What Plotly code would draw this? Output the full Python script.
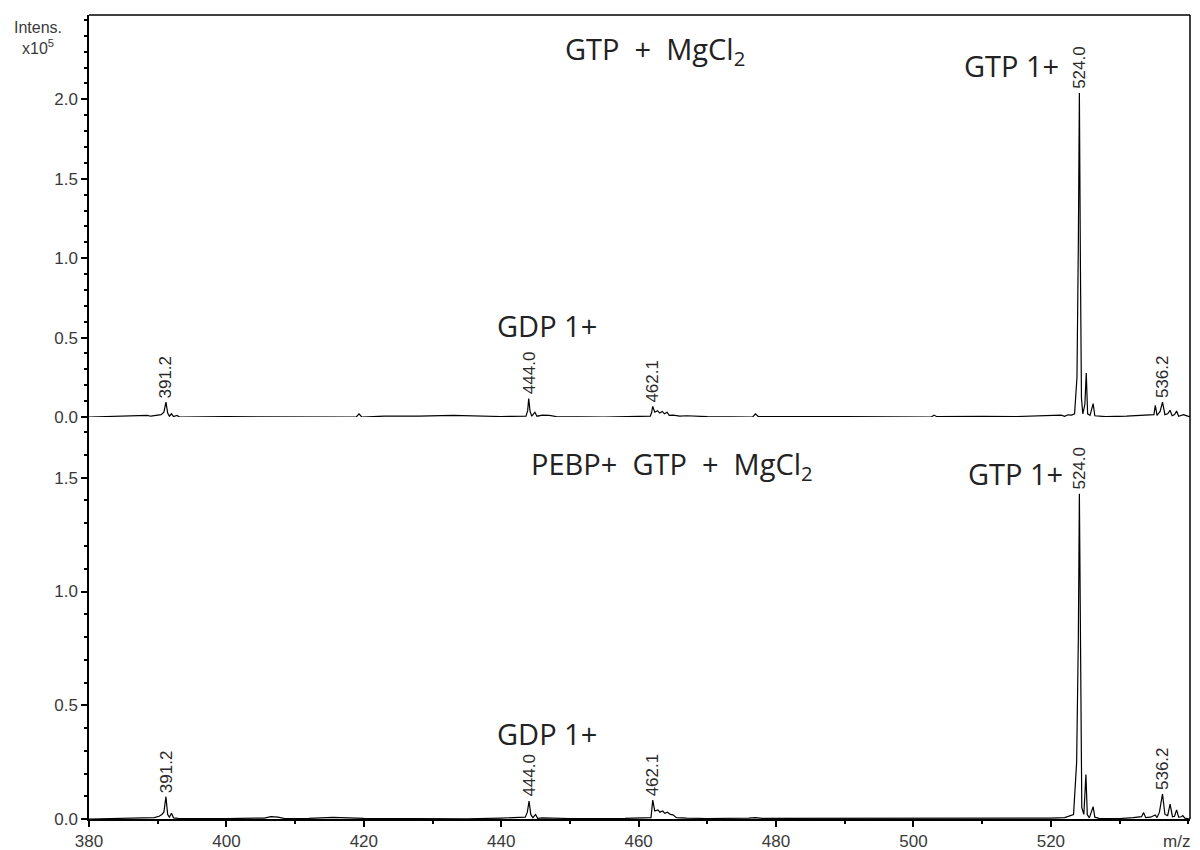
import plotly.graph_objects as go

# ---------------- data (intensities in units of 1e5) -------------
top_mz = [380.0, 384.0, 387.5, 388.5, 389.0, 389.8, 390.5, 390.9, 391.2, 391.45, 391.7, 392.0, 392.3,
          392.8, 393.2, 400.0, 410.0, 418.9, 419.3, 419.7, 423.0, 424.0, 428.0, 432.0, 433.0, 440.0,
          443.6, 443.85, 444.0, 444.2, 444.45, 444.9, 445.2, 446.0, 447.0, 448.0, 455.0, 461.7, 461.9,
          462.05, 462.35, 462.75, 463.05, 463.45, 463.75, 464.15, 464.45, 465.0, 466.0, 467.0, 470.0,
          476.6, 477.0, 477.4, 480.0, 490.0, 502.6, 503.0, 503.4, 510.0, 515.0, 521.5, 522.0, 522.5,
          523.0, 523.45, 523.8, 524.0, 524.15, 524.3, 524.45, 524.65, 524.95, 525.15, 525.35, 525.7,
          526.15, 526.4, 527.0, 528.0, 531.0, 532.5, 533.5, 534.5, 535.0, 535.2, 535.45, 535.9,
          536.25, 536.6, 537.0, 537.35, 537.65, 538.0, 538.3, 538.6, 539.0, 539.3, 540.25]
top_int = [0.0, 0.003, 0.005, 0.010, 0.005, 0.012, 0.015, 0.030, 0.094, 0.025, 0.005, 0.020, 0.003,
           0.010, 0.0, 0.002, 0.002, 0.0, 0.020, 0.0, 0.005, 0.006, 0.005, 0.008, 0.010, 0.003,
           0.005, 0.040, 0.116, 0.035, 0.005, 0.030, 0.005, 0.012, 0.010, 0.003, 0.0, 0.005, 0.030,
           0.067, 0.030, 0.040, 0.025, 0.035, 0.020, 0.030, 0.010, 0.012, 0.005, 0.008, 0.002,
           0.0, 0.020, 0.003, 0.002, 0.003, 0.0, 0.012, 0.002, 0.004, 0.003, 0.012, 0.004, 0.014,
           0.012, 0.020, 0.250, 1.100, 2.040, 0.950, 0.120, 0.020, 0.080, 0.277, 0.020, 0.010,
           0.084, 0.008, 0.005, 0.002, 0.005, 0.008, 0.008, 0.010, 0.015, 0.074, 0.010, 0.035,
           0.094, 0.015, 0.020, 0.042, 0.008, 0.015, 0.038, 0.005, 0.010, 0.015, 0.0]

bot_mz = [380.0, 385.0, 388.0, 389.5, 390.2, 390.6, 390.9, 391.2, 391.45, 391.7, 392.0, 392.3, 393.0,
          396.0, 400.0, 405.5, 406.5, 407.5, 408.5, 412.0, 413.5, 414.5, 415.5, 420.0, 425.0, 432.0,
          435.0, 440.0, 443.5, 443.8, 444.05, 444.3, 444.6, 445.0, 445.3, 446.0, 450.0, 458.0, 461.8,
          462.05, 462.35, 462.8, 463.1, 463.5, 463.8, 464.2, 464.6, 465.0, 465.5, 467.0, 470.0, 476.0,
          477.0, 478.0, 490.0, 500.0, 510.0, 520.0, 522.0, 523.3, 523.75, 524.0, 524.15, 524.3, 524.5,
          524.8, 525.1, 525.3, 525.6, 526.15, 526.4, 527.0, 530.0, 532.0, 533.2, 533.5, 533.8, 534.5,
          535.2, 535.45, 535.8, 536.25, 536.6, 537.0, 537.35, 537.7, 538.0, 538.3, 538.6, 539.0,
          539.2, 539.5, 540.25]
bot_int = [0.0, 0.002, 0.004, 0.006, 0.012, 0.020, 0.030, 0.098, 0.020, 0.008, 0.025, 0.005, 0.003,
           0.002, 0.002, 0.004, 0.010, 0.008, 0.002, 0.003, 0.006, 0.005, 0.007, 0.003, 0.002, 0.003,
           0.001, 0.004, 0.008, 0.030, 0.079, 0.020, 0.006, 0.020, 0.003, 0.005, 0.002, 0.003, 0.006,
           0.083, 0.035, 0.040, 0.030, 0.035, 0.025, 0.030, 0.020, 0.018, 0.006, 0.004, 0.002, 0.004,
           0.006, 0.003, 0.003, 0.002, 0.003, 0.004, 0.006, 0.020, 0.250, 0.800, 1.430, 0.600, 0.050,
           0.020, 0.196, 0.020, 0.005, 0.054, 0.008, 0.003, 0.002, 0.006, 0.010, 0.028, 0.006, 0.008,
           0.018, 0.006, 0.030, 0.110, 0.020, 0.015, 0.065, 0.010, 0.012, 0.040, 0.008, 0.010,
           0.015, 0.004, 0.0]

label_mz = [391.2, 444.05, 462.05, 524.15, 536.25]
label_text = ["391.2", "444.0", "462.1", "524.0", "536.2"]

x_ticks = [380, 400, 420, 440, 460, 480, 500, 520]
y_ticks_top = [0.0, 0.5, 1.0, 1.5, 2.0]
y_ticks_bot = [0.0, 0.5, 1.0, 1.5]

# ---------------- figure ------------------------------------------------------------------
TICKFONT = dict(family="Liberation Sans, Arial, sans-serif", size=17, color="#3a3a3a")
LABELFONT = dict(family="Liberation Sans, Arial, sans-serif", size=17, color="#2a2a2a")
BIGFONT = dict(family="Open Sans, sans-serif", size=29, color="#222222")
NB = "\u00a0"

fig = go.Figure()
fig.add_trace(go.Scatter(x=top_mz, y=top_int, mode="lines", xaxis="x2", yaxis="y2",
                         line=dict(color="black", width=1.2), showlegend=False, hoverinfo="skip"))
fig.add_trace(go.Scatter(x=bot_mz, y=bot_int, mode="lines", xaxis="x", yaxis="y",
                         line=dict(color="black", width=1.2), showlegend=False, hoverinfo="skip"))

annotations = []


def peak_height(mzs, ints, m):
    return max(v for x, v in zip(mzs, ints) if abs(x - m) <= 0.3)


for m, t in zip(label_mz, label_text):
    annotations.append(dict(x=m, y=peak_height(top_mz, top_int, m), xref="x2", yref="y2",
                            text=t, textangle=-90, showarrow=False, xanchor="center",
                            yanchor="bottom", yshift=2, font=LABELFONT))
    annotations.append(dict(x=m, y=peak_height(bot_mz, bot_int, m), xref="x", yref="y",
                            text=t, textangle=-90, showarrow=False, xanchor="center",
                            yanchor="bottom", yshift=2, font=LABELFONT))

annotations += [
    dict(x=462.4, y=2.31, xref="x2", yref="y2",
         text="GTP" + NB + " +" + NB + " MgCl<sub>2</sub>", showarrow=False, font=BIGFONT),
    dict(x=514.3, y=2.21, xref="x2", yref="y2", text="GTP 1+", showarrow=False, font=BIGFONT),
    dict(x=446.6, y=0.577, xref="x2", yref="y2", text="GDP 1+", showarrow=False, font=BIGFONT),
    dict(x=464.8, y=1.556, xref="x", yref="y",
         text="PEBP+" + NB + " GTP" + NB + " +" + NB + " MgCl<sub>2</sub>",
         showarrow=False, font=BIGFONT),
    dict(x=514.9, y=1.52, xref="x", yref="y", text="GTP 1+", showarrow=False, font=BIGFONT),
    dict(x=446.6, y=0.378, xref="x", yref="y", text="GDP 1+", showarrow=False, font=BIGFONT),
    dict(x=0, y=1, xref="paper", yref="paper", text="Intens.<br>x10<sup>5</sup>",
         showarrow=False, xanchor="center", yanchor="top", xshift=-51, yshift=-2,
         align="center", font=dict(family="Liberation Sans, Arial, sans-serif", size=16, color="#3a3a3a")),
    dict(x=1, y=0, xref="paper", yref="paper", text="m/z", showarrow=False,
         xanchor="right", yanchor="top", xshift=2, yshift=-11, font=TICKFONT),
]

axis_common = dict(showline=True, linecolor="black", linewidth=1.5, ticks="outside",
                   tickcolor="black", tickwidth=1.5, ticklen=6, showgrid=False, zeroline=False,
                   tickfont=TICKFONT, automargin=False)

fig.update_layout(
    width=1200, height=850,
    margin=dict(l=89, r=10, t=15, b=31),
    paper_bgcolor="white", plot_bgcolor="white",
    xaxis=dict(**axis_common, anchor="y", domain=[0, 1], range=[380, 540.25],
               tickmode="array", tickvals=x_ticks,
               minor=dict(dtick=10, tick0=380, ticks="outside", ticklen=3, tickcolor="black",
                          tickwidth=1.5, showgrid=False)),
    xaxis2=dict(anchor="y2", matches="x", range=[380, 540.25], showticklabels=False,
                showline=False, ticks="", showgrid=False, zeroline=False, automargin=False),
    yaxis=dict(**axis_common, domain=[0, 0.5], range=[0, 1.767], tickmode="array",
               tickvals=y_ticks_bot, tickformat=".1f",
               minor=dict(dtick=0.1, tick0=0, ticks="outside", ticklen=3, tickcolor="black",
                          tickwidth=1.5, showgrid=False)),
    yaxis2=dict(**axis_common, domain=[0.5, 1], range=[0, 2.531], tickmode="array",
                tickvals=y_ticks_top, tickformat=".1f",
                minor=dict(dtick=0.1, tick0=0, ticks="outside", ticklen=3, tickcolor="black",
                           tickwidth=1.5, showgrid=False)),
    annotations=annotations,
    shapes=[
        dict(type="line", xref="paper", yref="paper", x0=0, x1=1, y0=1, y1=1,
             line=dict(color="black", width=1.5)),
        dict(type="line", xref="paper", yref="paper", x0=1, x1=1, y0=0, y1=1,
             line=dict(color="black", width=1.5)),
    ],
)

fig.write_html("out.html", config={"displayModeBar": False},
               post_script="document.body.style.margin='0';")
